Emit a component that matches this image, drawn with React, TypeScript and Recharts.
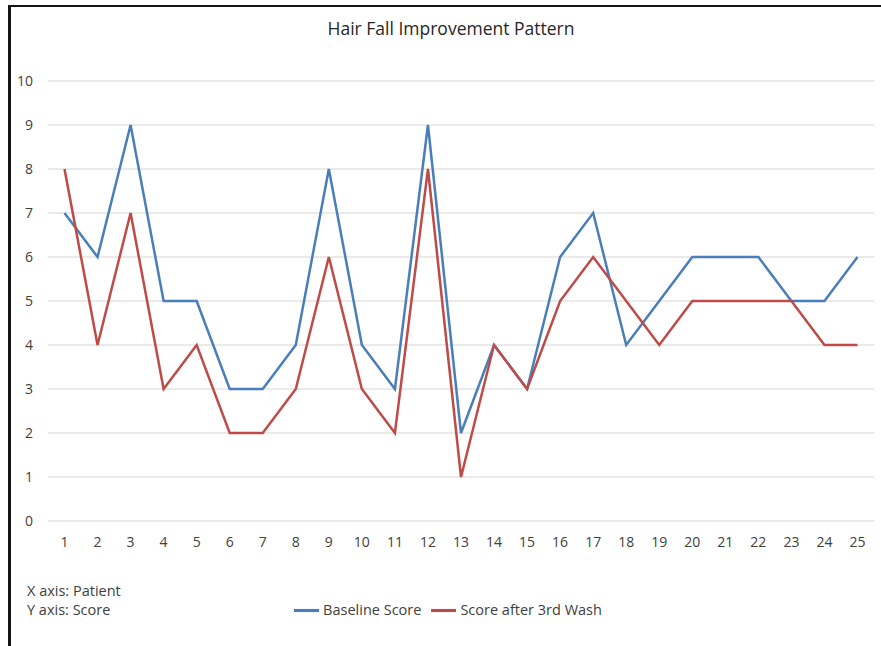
import React from 'react';
import { LineChart, Line, XAxis, YAxis, CartesianGrid, Legend } from 'recharts';

const patients = ['1', '2', '3', '4', '5', '6', '7', '8', '9', '10', '11', '12', '13', '14', '15', '16', '17', '18', '19', '20', '21', '22', '23', '24', '25'];
const baselineScore = [7, 6, 9, 5, 5, 3, 3, 4, 8, 4, 3, 9, 2, 4, 3, 6, 7, 4, 5, 6, 6, 6, 5, 5, 6];
const afterThirdWash = [8, 4, 7, 3, 4, 2, 2, 3, 6, 3, 2, 8, 1, 4, 3, 5, 6, 5, 4, 5, 5, 5, 5, 4, 4];
const yTicks = [0, 1, 2, 3, 4, 5, 6, 7, 8, 9, 10];

const data = patients.map((p, i) => ({
  patient: p,
  baseline: baselineScore[i],
  after: afterThirdWash[i],
}));

const textColor = '#404040';

const App: React.FC = () => {
  return (
    <div
      style={{
        position: 'absolute',
        left: 0,
        top: 0,
        width: 881,
        height: 646,
        overflow: 'hidden',
        background: '#fff',
        fontFamily: '"Open Sans", sans-serif',
      }}
    >
      <style>{`html, body { margin: 0; overflow: hidden; background: #fff; }`}</style>
      {/* frame: only the left and top edges are in view */}
      <div style={{ position: 'absolute', left: 8, top: 5, width: 3, height: 641, background: '#151515' }} />
      <div style={{ position: 'absolute', left: 8, top: 5, width: 873, height: 2, background: '#151515' }} />
      <div
        style={{
          position: 'absolute',
          left: 0,
          width: 902,
          top: 16,
          textAlign: 'center',
          fontSize: 17.5,
          color: '#262626',
        }}
      >
        Hair Fall Improvement Pattern
      </div>
      <LineChart
        width={881}
        height={646}
        data={data}
        margin={{ top: 81, right: 7, bottom: 95, left: 8 }}
        style={{ position: 'absolute', left: 0, top: 0 }}
      >
        <CartesianGrid vertical={false} stroke="#e3e3e3" strokeWidth={1.5} />
        <XAxis
          dataKey="patient"
          height={30}
          axisLine={false}
          tickLine={false}
          tickSize={0}
          tickMargin={16}
          padding={{ left: 16.5, right: 16.5 }}
          interval={0}
          tick={{ fill: textColor, fontSize: 14 }}
        />
        <YAxis
          width={40}
          domain={[0, 10]}
          ticks={yTicks}
          axisLine={false}
          tickLine={false}
          tickSize={0}
          tickMargin={15}
          tick={{ fill: textColor, fontSize: 14 }}
        />
        <Legend
          layout="horizontal"
          verticalAlign="middle"
          align="center"
          iconType="plainline"
          iconSize={25}
          formatter={(value) => <span style={{ color: textColor, fontSize: 14.5 }}>{value}</span>}
          wrapperStyle={{ top: 598, left: 23, width: 860 }}
        />
        <Line
          name="Baseline Score"
          dataKey="baseline"
          stroke="#4A7EBB"
          strokeWidth={2.5}
          dot={false}
          isAnimationActive={false}
        />
        <Line
          name="Score after 3rd Wash"
          dataKey="after"
          stroke="#BE4B48"
          strokeWidth={2.5}
          dot={false}
          isAnimationActive={false}
        />
      </LineChart>
      <div style={{ position: 'absolute', left: 27, top: 581, fontSize: 14.5, color: textColor, lineHeight: '19px' }}>
        X axis: Patient
        <br />
        Y axis: Score
      </div>
    </div>
  );
};

export default App;
